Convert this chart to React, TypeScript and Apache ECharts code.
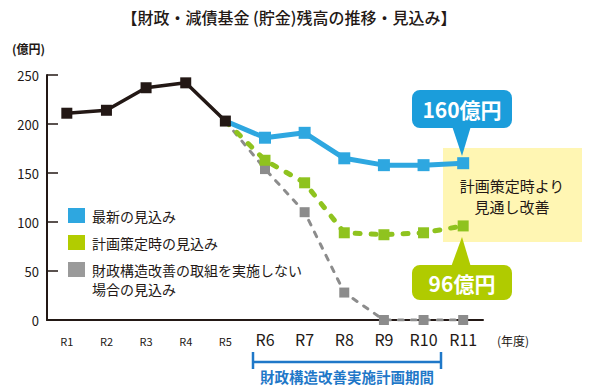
import React, { useEffect, useRef } from "react";
import * as echarts from "echarts";

const categories = ["R1", "R2", "R3", "R4", "R5", "R6", "R7", "R8", "R9", "R10", "R11"];
const actual = [211, 214, 237, 242, 203, null, null, null, null, null, null];
const latest = [null, null, null, null, 203, 186, 191, 165, 158, 158, 160];
const planned = [null, null, null, null, 203, 163, 140, 89, 87, 89, 96];
const noReform = [null, null, null, null, 203, 154, 110, 28, 0, 0, 0];
const yTicks = [0, 50, 100, 150, 200, 250];
const seriesNames = ["最新の見込み", "計画策定時の見込み", "財政構造改善の取組を実施しない\n場合の見込み"];

const FONT = '"Noto Sans CJK JP", "Noto Sans", sans-serif';
const DARK = "#231815";
const BLUE = "#2ea7e0";
const GREEN = "#8fc31f";
const GRAY = "#8c8c8c";

function startNoSymbol(arr: (number | null)[]) {
  return arr.map((v, i) => (i === 4 ? { value: v, symbol: "none" } : v));
}

export default function App() {
  const ref = useRef<HTMLDivElement>(null);
  useEffect(() => {
    if (!ref.current) return;
    const chart = echarts.init(ref.current, null, { renderer: "svg" });
    const legendColors = [BLUE, "#b2cc00", "#9a9a9a"];
    const legendY = [208, 235, 262];
    const legendGraphics: any[] = [];
    seriesNames.forEach((name, i) => {
      legendGraphics.push({
        type: "rect",
        shape: { x: 68, y: legendY[i], width: 17, height: 15 },
        style: { fill: legendColors[i] },
      });
      legendGraphics.push({
        type: "text",
        x: 92,
        y: i === 2 ? legendY[i] - 2 : legendY[i] + 7.5,
        style: {
          text: name,
          font: `14px ${FONT}`,
          fill: DARK,
          verticalAlign: i === 2 ? "top" : "middle",
          lineHeight: 19,
        },
      });
    });

    chart.setOption({
      animation: false,
      textStyle: { fontFamily: FONT },
      grid: { left: 47, right: 117, top: 75, bottom: 71, containLabel: false },
      xAxis: {
        type: "category",
        data: categories,
        boundaryGap: true,
        axisLine: { lineStyle: { color: DARK, width: 2 } },
        axisTick: { alignWithLabel: true, inside: true, length: 6, lineStyle: { color: DARK, width: 1.5 } },
        axisLabel: {
          interval: 0,
          margin: 19,
          verticalAlign: "middle",
          color: DARK,
          formatter: (v: string, i: number) => (i < 5 ? `{s|${v}}` : `{l|${v}}`),
          rich: {
            s: { fontSize: 11, fontFamily: FONT, color: DARK, padding: [4, 0, 0, 0] },
            l: { fontSize: 16, fontFamily: FONT, color: DARK },
          },
        },
      },
      yAxis: {
        type: "value",
        min: 0,
        max: 250,
        interval: 50,
        splitLine: { show: false },
        axisLine: { show: true, lineStyle: { color: DARK, width: 2 } },
        axisTick: { show: true, inside: true, length: 11, lineStyle: { color: DARK, width: 1.5 } },
        axisLabel: {
          margin: 8,
          fontSize: 13,
          color: DARK,
          fontFamily: FONT,
          formatter: (v: number) => (yTicks.includes(v) ? String(v) : ""),
        },
      },
      series: [
        {
          name: seriesNames[2],
          type: "line",
          data: startNoSymbol(noReform),
          symbol: "rect",
          symbolSize: 10,
          itemStyle: { color: GRAY },
          lineStyle: { color: GRAY, width: 3, type: [5, 8], cap: "round" },
          z: 2,
        },
        {
          name: seriesNames[1],
          type: "line",
          data: startNoSymbol(planned),
          symbol: "rect",
          symbolSize: 11,
          itemStyle: { color: GREEN },
          lineStyle: { color: GREEN, width: 5, type: [5, 11], cap: "round" },
          z: 3,
        },
        {
          name: seriesNames[0],
          type: "line",
          data: startNoSymbol(latest),
          symbol: "rect",
          symbolSize: 12,
          itemStyle: { color: BLUE },
          lineStyle: { color: BLUE, width: 5 },
          z: 4,
        },
        {
          name: "実績",
          type: "line",
          data: actual,
          symbol: "rect",
          symbolSize: 11,
          itemStyle: { color: DARK },
          lineStyle: { color: DARK, width: 3.5 },
          z: 5,
        },
      ],
      graphic: [
        {
          type: "rect",
          z: -10,
          shape: { x: 443, y: 148, width: 139, height: 94 },
          style: { fill: "#fff6b3" },
        },
        {
          type: "text",
          x: 512,
          y: 196,
          z: 10,
          style: {
            text: "計画策定時より\n見通し改善",
            font: `15px ${FONT}`,
            fill: DARK,
            align: "center",
            verticalAlign: "middle",
            lineHeight: 21,
          },
        },
        {
          type: "text",
          x: 289,
          y: 17,
          style: {
            text: "【財政・減債基金 (貯金)残高の推移・見込み】",
            font: `500 16px ${FONT}`,
            fill: DARK,
            align: "center",
            verticalAlign: "middle",
          },
        },
        {
          type: "text",
          x: 12,
          y: 48,
          style: { text: "(億円)", font: `bold 12px ${FONT}`, fill: DARK, verticalAlign: "middle" },
        },
        {
          type: "text",
          x: 497,
          y: 340,
          style: { text: "(年度)", font: `12px ${FONT}`, fill: DARK, verticalAlign: "middle" },
        },
        {
          type: "rect",
          z: 100,
          shape: { x: 412, y: 90, width: 100, height: 38, r: 8 },
          style: { fill: "#1b9ddb" },
        },
        {
          type: "polygon",
          z: 100,
          shape: { points: [[452, 126], [471, 126], [462, 156]] },
          style: { fill: "#1b9ddb" },
        },
        {
          type: "text",
          z: 101,
          x: 462,
          y: 109,
          style: { text: "160億円", font: `bold 21px ${FONT}`, fill: "#ffffff", align: "center", verticalAlign: "middle" },
        },
        {
          type: "rect",
          z: 100,
          shape: { x: 412, y: 265, width: 100, height: 35, r: 8 },
          style: { fill: "#b0cb00" },
        },
        {
          type: "polygon",
          z: 100,
          shape: { points: [[451, 267], [471, 267], [462, 237]] },
          style: { fill: "#b0cb00" },
        },
        {
          type: "text",
          z: 101,
          x: 462,
          y: 283,
          style: { text: "96億円", font: `bold 21px ${FONT}`, fill: "#ffffff", align: "center", verticalAlign: "middle" },
        },
        {
          type: "line",
          shape: { x1: 253, y1: 362, x2: 441, y2: 362 },
          style: { stroke: "#1f78c8", lineWidth: 2.5 },
        },
        {
          type: "line",
          shape: { x1: 253, y1: 352, x2: 253, y2: 369 },
          style: { stroke: "#1f78c8", lineWidth: 2.5 },
        },
        {
          type: "line",
          shape: { x1: 441, y1: 352, x2: 441, y2: 369 },
          style: { stroke: "#1f78c8", lineWidth: 2.5 },
        },
        {
          type: "text",
          x: 347,
          y: 376,
          style: {
            text: "財政構造改善実施計画期間",
            font: `bold 14.5px ${FONT}`,
            fill: "#1f78c8",
            align: "center",
            verticalAlign: "middle",
          },
        },
        ...legendGraphics,
      ],
    });
    return () => chart.dispose();
  }, []);
  return <div ref={ref} style={{ width: 600, height: 391, position: "absolute", left: 0, top: 0 }} />;
}
